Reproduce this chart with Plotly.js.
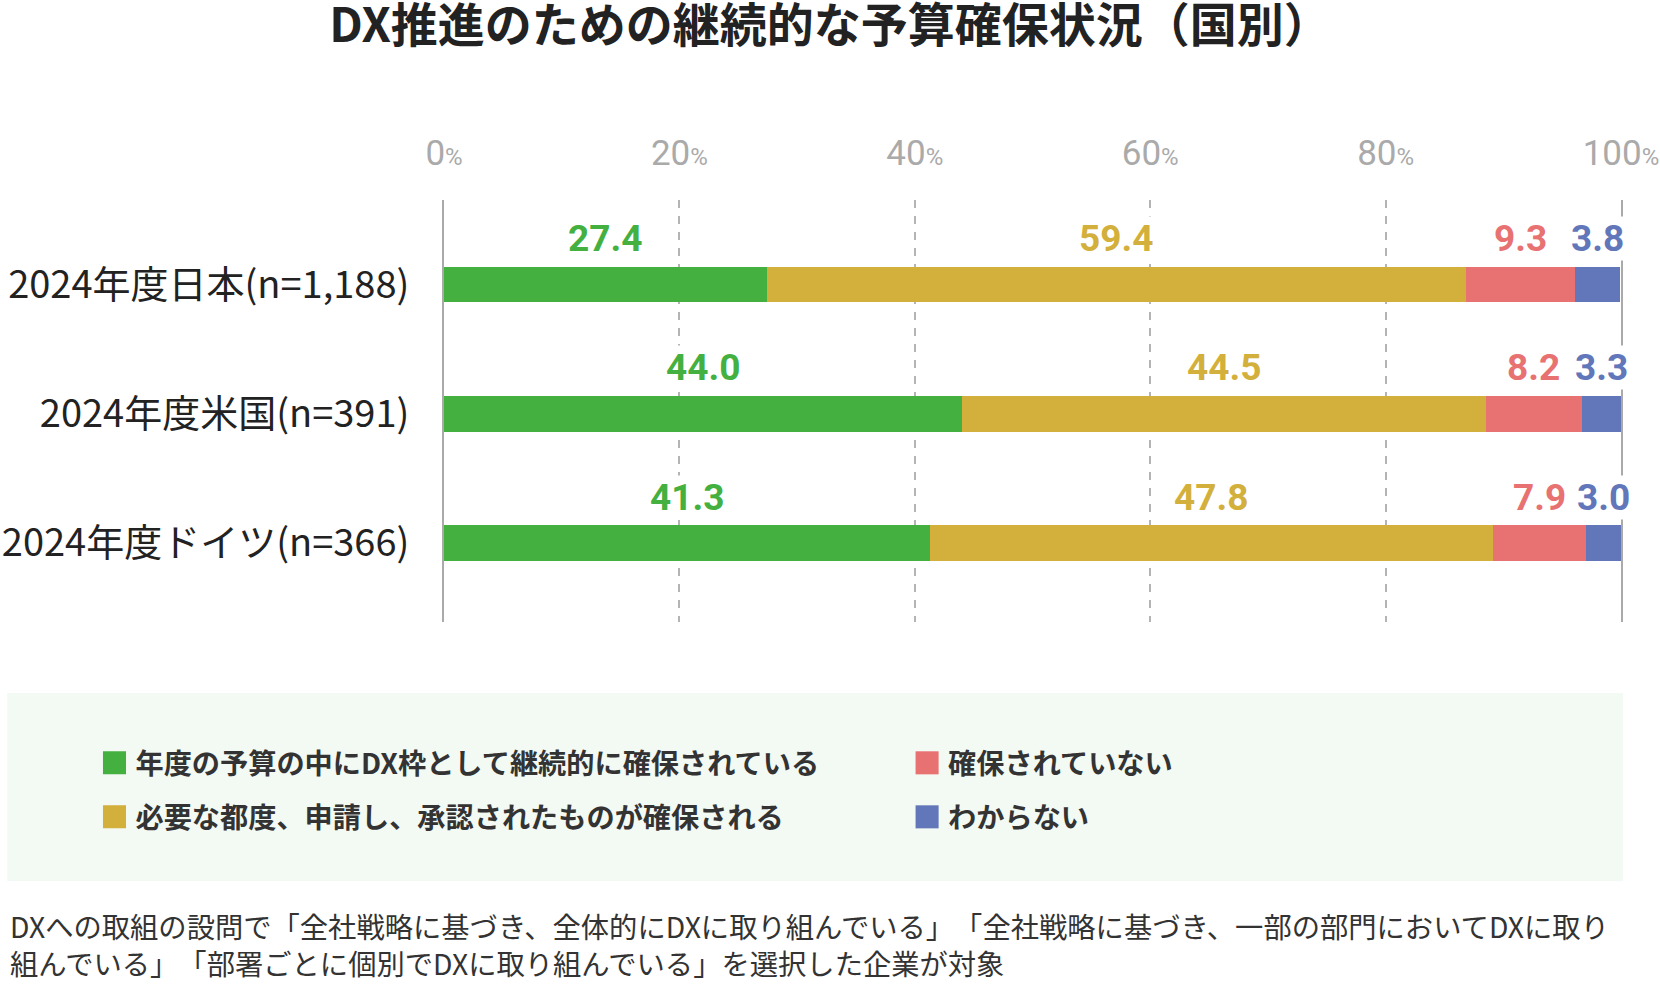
<!DOCTYPE html>
<html><head><meta charset="utf-8">
<script src="https://cdn.plot.ly/plotly-3.0.1.min.js"></script>
<style>html,body{margin:0;padding:0;background:#fff;} #chart{width:1660px;height:984px;} #chart text{text-spacing-trim: space-all;}</style>
</head><body><div id="chart"></div>
<script>
const categories = ['2024年度日本(n=1,188)', '2024年度米国(n=391)', '2024年度ドイツ(n=366)'];
const seriesNames = [
  '年度の予算の中にDX枠として継続的に確保されている',
  '必要な都度、申請し、承認されたものが確保される',
  '確保されていない',
  'わからない'
];
const budgetInFrame = [27.4, 44.0, 41.3];
const perRequest = [59.4, 44.5, 47.8];
const notSecured = [9.3, 8.2, 7.9];
const unknown = [3.8, 3.3, 3.0];
const xTickValues = [0, 20, 40, 60, 80, 100];
const xTickNumbers = ['0', '20', '40', '60', '80', '100'];
const titleText = 'DX推進のための継続的な予算確保状況（国別）';
const footnoteText = 'DXへの取組の設問で「全社戦略に基づき、全体的にDXに取り組んでいる」「全社戦略に基づき、一部の部門においてDXに取り<br>組んでいる」「部署ごとに個別でDXに取り組んでいる」を選択した企業が対象';

const colors = ['#43B040', '#D3AF3C', '#E87171', '#6276BA'];
const series = [budgetInFrame, perRequest, notSecured, unknown];
const legendIds = ['legend', 'legend2', 'legend3', 'legend4'];

const JP = '"Noto Sans CJK JP", "Noto Sans", sans-serif';
const RB = 'Roboto, "Noto Sans", sans-serif';

const traces = series.map((vals, i) => ({
  type: 'bar',
  orientation: 'h',
  y: categories,
  x: vals,
  name: seriesNames[i],
  legend: legendIds[i],
  width: 0.275,
  marker: {color: colors[i], line: {width: 0}},
  hoverinfo: 'skip'
}));

const annotations = [];
categories.forEach((cat, j) => {
  let base = 0;
  series.forEach((vals, i) => {
    const v = vals[j];
    annotations.push({
      x: base + v / 2, y: cat, xref: 'x', yref: 'y',
      text: v.toFixed(1), showarrow: false, yshift: 46,
      xanchor: 'center', yanchor: 'middle',
      bgcolor: 'white', borderpad: 0,
      font: {family: RB, size: 37, color: colors[i], weight: 700}
    });
    base += v;
  });
});
annotations.push({
  x: -0.3704, y: -0.764, xref: 'paper', yref: 'paper',
  xanchor: 'left', yanchor: 'middle', align: 'left', showarrow: false,
  text: footnoteText,
  font: {family: JP, size: 28.3, color: '#333'}
});

function legendBox(x, y) {
  return {
    xref: 'paper', yref: 'paper', x: x, y: y,
    xanchor: 'left', yanchor: 'middle', orientation: 'v',
    bgcolor: 'rgba(0,0,0,0)', borderwidth: 0, itemwidth: 32,
    font: {family: JP, size: 28.2, color: '#333', weight: 700}
  };
}

const layout = {
  width: 1660, height: 984,
  margin: {l: 444, r: 39, t: 200, b: 362, autoexpand: false},
  paper_bgcolor: '#ffffff', plot_bgcolor: '#ffffff',
  barmode: 'stack',
  title: {
    text: titleText, xref: 'container', yref: 'container',
    x: 0.5, y: 0.974, xanchor: 'center', yanchor: 'middle',
    font: {family: JP, size: 47, color: '#222', weight: 700}
  },
  xaxis: {
    range: [0, 100], side: 'top', fixedrange: true, automargin: false,
    tickvals: xTickValues,
    ticktext: xTickNumbers.map(t => t + '<span style="font-size:24px">%</span>'),
    tickfont: {family: RB, size: 35, color: '#aaaaaa'}, tickangle: 0,
    ticks: '', ticklabelstandoff: 27,
    showgrid: true, gridcolor: '#b4b4b4', gridwidth: 2, griddash: '8px,8px',
    zeroline: false, showline: false
  },
  yaxis: {
    type: 'category', autorange: false, range: [2.611, -0.654], fixedrange: true, automargin: false,
    showline: true, mirror: true, linecolor: '#aaaaaa', linewidth: 2,
    showgrid: false, zeroline: false, ticks: '', ticklabelstandoff: 25,
    tickfont: {family: JP, size: 38, color: '#222'}
  },
  showlegend: true,
  legend: legendBox(-0.2978, -0.3341),
  legend2: legendBox(-0.2978, -0.4621),
  legend3: legendBox(0.3926, -0.3341),
  legend4: legendBox(0.3926, -0.4621),
  shapes: [{
    type: 'rect', xref: 'paper', yref: 'paper',
    x0: -0.371, x1: 1.0017, y0: -0.614, y1: -0.168,
    fillcolor: '#F3F9F3', line: {width: 0}, layer: 'below'
  }],
  annotations: annotations
};

function enlargeLegendIcons() {
  document.querySelectorAll('.legendpoints path').forEach(p => {
    if (!p.dataset.scaled) {
      const t = p.getAttribute('transform') || '';
      p.setAttribute('transform', t + ' scale(1.92)');
      p.dataset.scaled = '1';
    }
  });
}

Plotly.newPlot('chart', traces, layout, {displayModeBar: false, staticPlot: true}).then(enlargeLegendIcons);
</script>
</body></html>
